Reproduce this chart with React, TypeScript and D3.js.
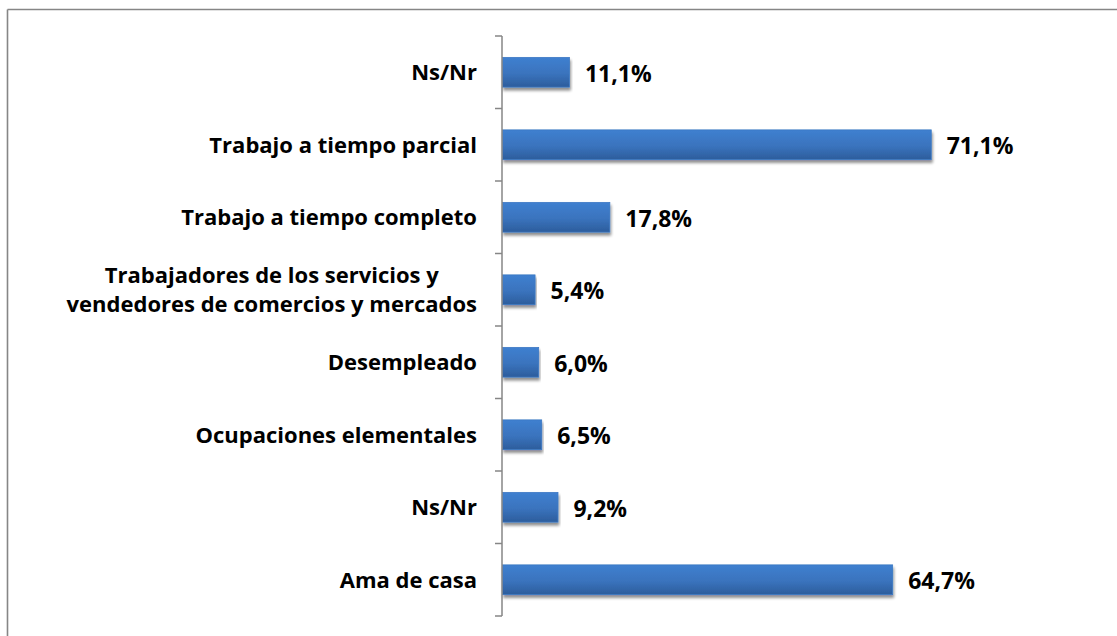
import React from "react";
import * as d3 from "d3";

const categories: string[][] = [
  ["Ns/Nr"],
  ["Trabajo a tiempo parcial"],
  ["Trabajo a tiempo completo"],
  ["Trabajadores de los servicios y", "vendedores de comercios y mercados"],
  ["Desempleado"],
  ["Ocupaciones elementales"],
  ["Ns/Nr"],
  ["Ama de casa"],
];
const values: number[] = [11.1, 71.1, 17.8, 5.4, 6.0, 6.5, 9.2, 64.7];
const valueLabels: string[] = ["11,1%", "71,1%", "17,8%", "5,4%", "6,0%", "6,5%", "9,2%", "64,7%"];

const W = 1117;
const H = 636;
const FONT = "'Open Sans', Lato, sans-serif";
const FONT_SIZE = 22;
const VALUE_FONT_SIZE = 23;

function measure(text: string): number {
  const c = document.createElement("canvas").getContext("2d");
  if (!c) return text.length * FONT_SIZE * 0.55;
  c.font = `bold ${FONT_SIZE}px 'Open Sans'`;
  return c.measureText(text).width;
}

export default function App() {
  const axisX = 502;
  const top = 36;
  const bottom = 616;
  const labelRight = 477;
  const x = d3.scaleLinear().domain([0, 80]).range([axisX, axisX + 80 * 6.03]);
  const y = d3
    .scaleBand<number>()
    .domain(values.map((_, i) => i))
    .range([top, bottom])
    .padding(0);
  const bw = y.bandwidth();
  const barH = bw * 0.41;
  const ticks = d3.range(values.length + 1).map((i) => top + i * bw);
  const lineH = 29.4;

  return (
    <svg
      width={W}
      height={H}
      style={{ position: "absolute", left: 0, top: 0, background: "#fff" }}
      fontFamily={FONT}
    >
      <defs>
        <linearGradient id="barGrad" x1="0" y1="0" x2="0" y2="1">
          <stop offset="0%" stopColor="#3f80d0" />
          <stop offset="55%" stopColor="#3a73bd" />
          <stop offset="100%" stopColor="#2c5d9c" />
        </linearGradient>
        <filter id="shadow" x="-5%" y="-30%" width="110%" height="180%">
          <feGaussianBlur in="SourceAlpha" stdDeviation="1.6" />
          <feOffset dx="1" dy="3" result="ob" />
          <feComponentTransfer>
            <feFuncA type="linear" slope="0.45" />
          </feComponentTransfer>
          <feMerge>
            <feMergeNode />
            <feMergeNode in="SourceGraphic" />
          </feMerge>
        </filter>
      </defs>
      <rect x={0} y={0} width={W} height={H} fill="#fff" />
      <line x1={7.5} y1={9.5} x2={W} y2={9.5} stroke="#868686" strokeWidth={1.6} />
      <line x1={7.5} y1={9.5} x2={7.5} y2={H} stroke="#868686" strokeWidth={1.6} />

      {values.map((v, i) => {
        const cy = (y(i) as number) + bw / 2;
        return (
          <rect
            key={"b" + i}
            x={x(0) + 0.5}
            y={cy - barH / 2}
            width={x(v) - x(0)}
            height={barH}
            fill="url(#barGrad)"
            stroke="#3c79c4"
            strokeWidth={0.8}
            filter="url(#shadow)"
          />
        );
      })}

      <line x1={axisX} y1={top} x2={axisX} y2={bottom} stroke="#868686" strokeWidth={1.5} />
      {ticks.map((t, i) => (
        <line key={"t" + i} x1={axisX - 7} y1={t} x2={axisX} y2={t} stroke="#868686" strokeWidth={1.5} />
      ))}

      {categories.map((lines, i) => {
        const cy = (y(i) as number) + bw / 2;
        const n = lines.length;
        const maxW = n > 1 ? Math.max(...lines.map(measure)) : 0;
        const cx = n > 1 ? labelRight - maxW / 2 : labelRight;
        return (
          <text
            key={"c" + i}
            textAnchor={n > 1 ? "middle" : "end"}
            fontSize={FONT_SIZE}
            fontWeight="bold"
            fill="#000"
          >
            {lines.map((l, j) => (
              <tspan key={j} x={cx} y={cy + (j - (n - 1) / 2) * lineH + 7.9}>
                {l}
              </tspan>
            ))}
          </text>
        );
      })}

      {values.map((v, i) => {
        const cy = (y(i) as number) + bw / 2;
        return (
          <text
            key={"v" + i}
            x={x(v) + 16}
            y={cy + 9.5}
            fontSize={VALUE_FONT_SIZE}
            fontWeight="bold"
            fill="#000"
          >
            {valueLabels[i]}
          </text>
        );
      })}
    </svg>
  );
}
